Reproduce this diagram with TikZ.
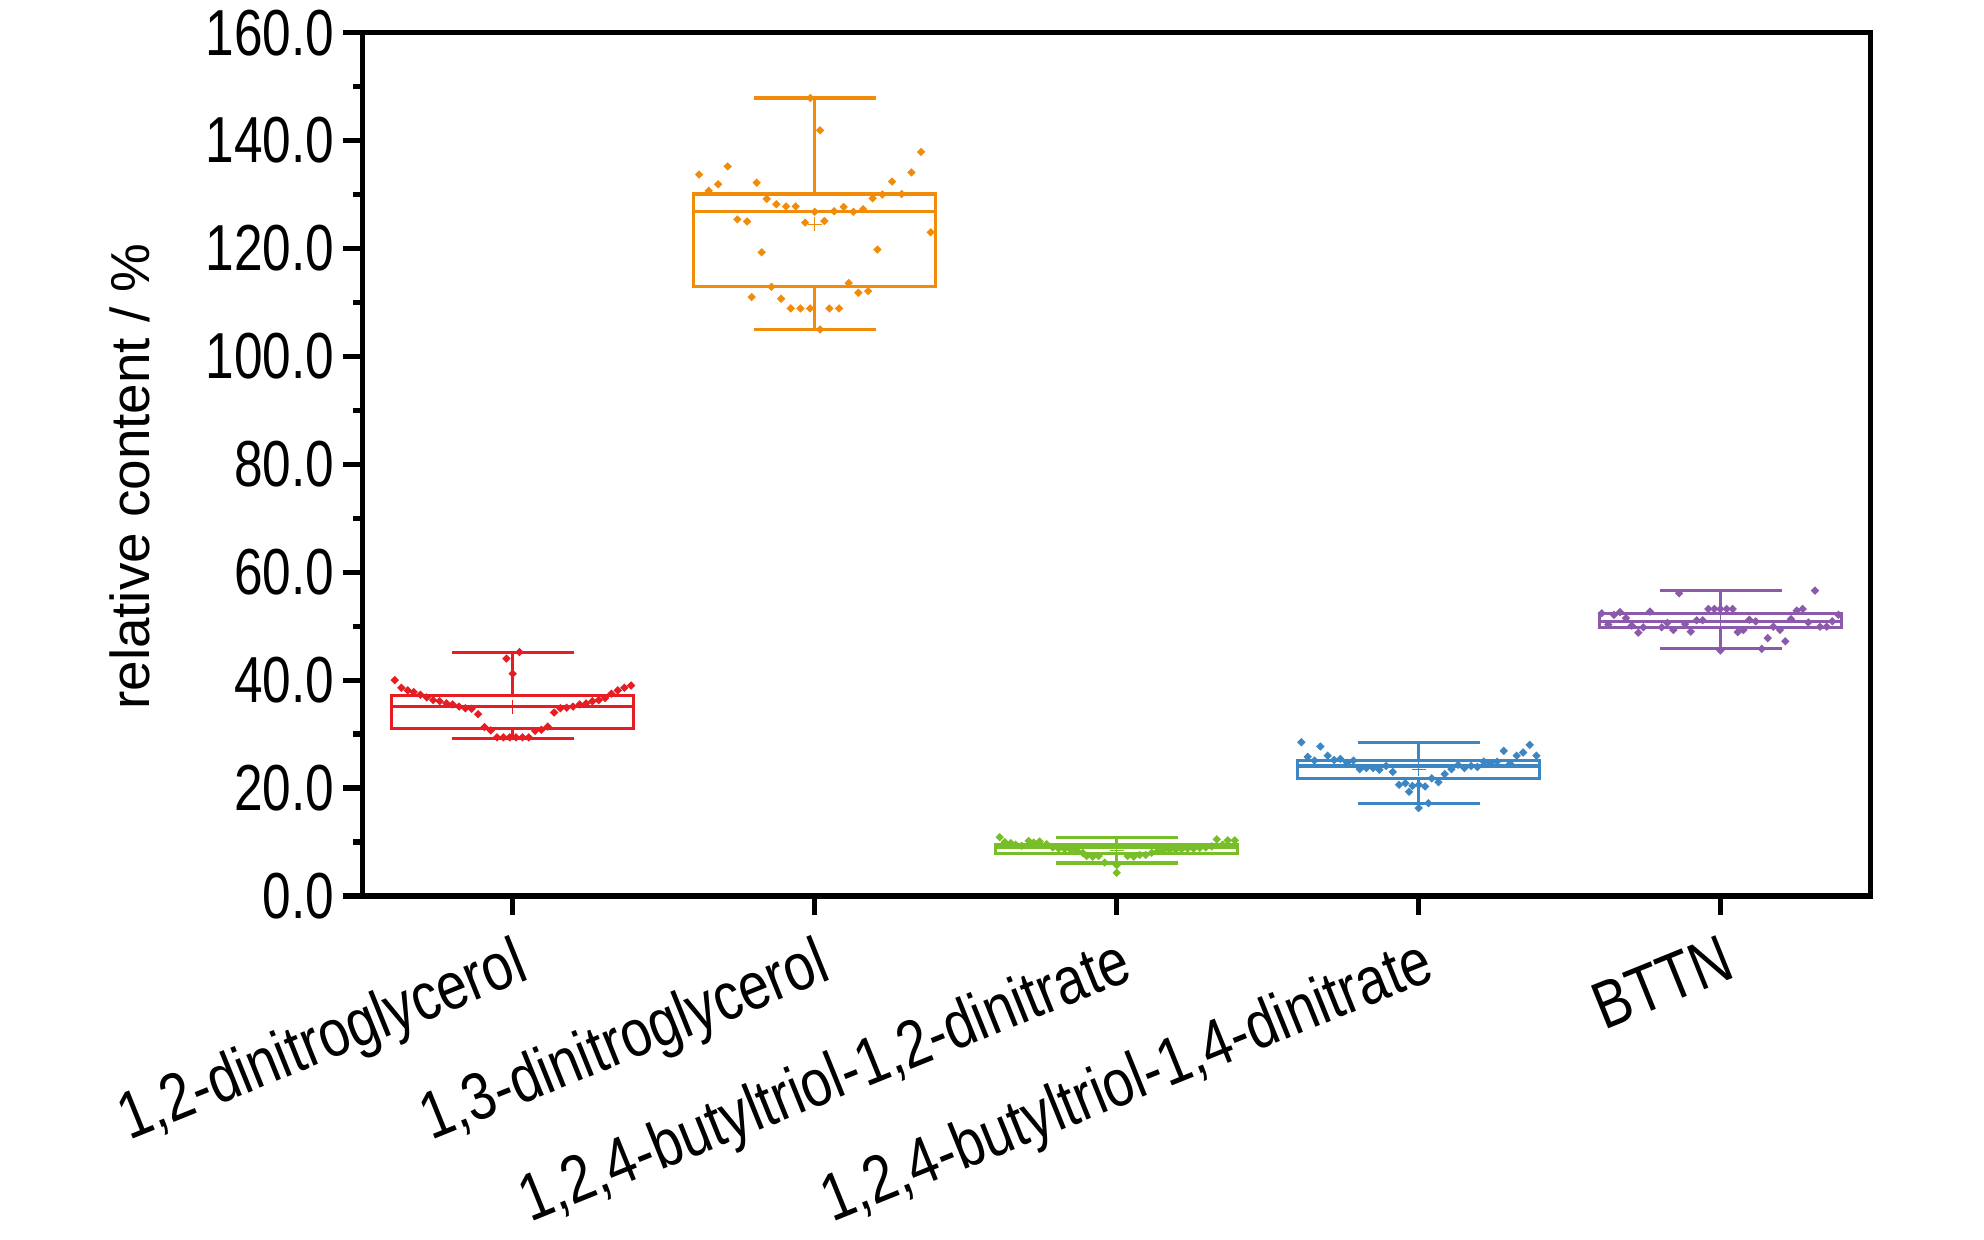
\documentclass[tikz,border=0pt]{standalone}
\usepackage{fontspec}
\setmainfont{Liberation Sans}
\newfontfamily\ticknarrow{Liberation Sans}[FakeStretch=0.79]
\newfontfamily\catnarrow{Liberation Sans}[FakeStretch=0.82]
\usetikzlibrary{shapes.geometric}

\definecolor{cred}{RGB}{230,30,35}
\definecolor{corange}{RGB}{240,140,10}
\definecolor{cgreen}{RGB}{120,190,40}
\definecolor{cblue}{RGB}{60,135,195}
\definecolor{cpurple}{RGB}{140,90,170}

\tikzset{
  frameline/.style={line width=1.5pt},
  boxline/.style={line width=0.9pt},
  datapt/.style={diamond, fill, inner sep=0pt, minimum size=0.09cm},
  ticklabel/.style={font=\ticknarrow\fontsize{18.5}{20}\selectfont, inner sep=0pt, anchor=east},
  catlabel/.style={font=\catnarrow\fontsize{19}{21}\selectfont, inner sep=0pt, anchor=north east, rotate=22},
  axistitle/.style={font=\fontsize{15.6}{17}\selectfont, inner sep=0pt, rotate=90}
}

\begin{document}
\begin{tikzpicture}[x=0.01cm, y=0.01cm]
\useasboundingbox (0,0) rectangle (1984,1240);

\node[axistitle] (ytitle) at (130,763.5) {relative content / \%};

\begin{scope}[shift={(362.7,344)}, y=0.05392cm]
\draw[frameline] (0,0) rectangle (1508,160);
\foreach \v in {0,20,...,160} {
  \draw[frameline] (0,\v) -- (-20,\v);
  \node[ticklabel] (ytick\v) at (-27.7,\v) {\v.0};
}
\foreach \v in {10,30,...,150}
  \draw[frameline] (0,\v) -- (-10,\v);

\foreach \c/\col/\lo/\qa/\md/\qb/\hi/\mn in {150/cred/29.2/31.1/35.1/37.2/45.1/35.0,
    452/corange/105.0/112.9/126.8/130.1/147.9/124.5,
    754/cgreen/6.1/7.9/9.0/9.5/10.9/8.4,
    1056/cblue/17.2/21.8/24.1/25.1/28.5/23.5,
    1358/cpurple/45.8/49.8/50.8/52.4/56.6/51.0} {
  \draw[boxline, color=\col] (\c-121,\qa) rectangle (\c+121,\qb);
  \draw[boxline, color=\col] (\c-121,\md) -- (\c+121,\md);
  \draw[boxline, color=\col] (\c,\qb) -- (\c,\hi) (\c-61,\hi) -- (\c+61,\hi);
  \draw[boxline, color=\col] (\c,\qa) -- (\c,\lo) (\c-61,\lo) -- (\c+61,\lo);
  \draw[color=\col, line width=0.3pt] (\c-7,\mn) -- (\c+7,\mn) (\c,\mn) ++(0,-0.07cm) -- ++(0,0.14cm);
  \draw[frameline] (\c,0) -- ++(0,-0.19cm);
}

\foreach \dx/\v [count=\i] in {-118/40.0, -111.3/38.6, -105/38.1, -99/37.8, -92.3/37.3, -86/36.8,
    -79.6/36.3, -73/36.1, -66.3/35.7, -60/35.5, -53.6/35.1, -47.3/34.8, -41/34.7, -34.6/33.7,
    -28.3/31.3, -22/30.7, -15.6/29.4, -9.3/29.4, -3/29.4, 3.3/29.4, 9.7/29.4, 16/29.4,
    22.4/30.6, 28.7/30.8, 35/31.4, 41.4/34.0, 47.7/34.8, 54/34.9, 60.4/35.1, 67/35.5,
    73.4/35.7, 79.7/36.1, 86/36.3, 92.4/36.7, 98.7/37.5, 105/38.1, 111.7/38.6, 118.4/39.0,
    0/41.2, -6.3/44.0, 6.7/45.2}
  \node[datapt, cred] (red\i) at (\dx+150,\v) {};

\foreach \dx/\v [count=\i] in {-4.3/147.9, 5.4/141.9, -115.6/133.7, -106/130.7, -96.6/131.9,
    -87/135.2, -58/132.2, -48/129.2, -38.3/128.2, -28.6/127.8, -19/127.8, -77.3/125.4,
    -67.6/125.0, -53/119.3, -9.6/124.8, 0/126.8, 9.7/125.1, 19.4/126.9, 29/127.7, 38.7/126.8,
    48.4/127.3, 58/129.3, 67.7/130.0, 77.4/132.4, 87/130.1, 96.7/134.1, 106.4/137.9, 116/123.0,
    62.7/119.8, 34/113.6, 43.7/111.8, 53.4/112.1, -63/111.0, -43.3/112.9, -33.6/110.7,
    -24/108.9, -14.3/108.9, -4.6/108.9, 14.7/108.9, 24.4/108.9, 5.4/105.0}
  \node[datapt, corange] (orange\i) at (\dx+452,\v) {};

\foreach \dx/\v [count=\i] in {-117/10.9, -112/10.0, -106/9.8, -101/9.5, -95/9.3, -88/10.2,
    -83/9.9, -77/10.1, -70/9.6, -64/9.0, -58/8.8, -52/8.7, -46/8.6, -40/8.4, -34/8.0,
    -30/7.4, -24/7.3, -18/7.4, -12/6.2, 0/5.7, 0/4.3, 11/7.4, 17/7.3, 23/7.6, 29/7.6,
    35/8.0, 41/8.3, 47/8.5, 53/8.6, 59/8.6, 65/8.7, 71/8.8, 77/8.8, 83/8.9, 89/9.0,
    95/9.2, 100/10.5, 106/9.5, 111/10.3, 118/10.3}
  \node[datapt, cgreen] (green\i) at (\dx+754,\v) {};

\foreach \dx/\v [count=\i] in {-117.3/28.5, -111/25.8, -104.3/25.1, -98.3/27.7, -91/26.0,
    -84.6/25.2, -78.3/25.4, -71.6/24.7, -65.3/25.1, -59/23.5, -52.3/23.7, -45.6/23.7,
    -39.3/23.4, -32.6/24.1, -26/23.0, -19.6/20.6, -13.3/20.9, -9.6/19.3, -6.3/20.4,
    0/20.6, 0/16.3, 6.4/20.3, 9.7/17.2, 13/21.8, 19.7/21.1, 26/22.6, 32.7/23.5, 39.4/24.3,
    45.7/23.7, 52.4/24.1, 58.7/23.9, 65/24.9, 71.7/24.6, 78.4/24.9, 85/26.9, 91.4/24.5,
    98/26.0, 104.4/26.6, 111/28.0, 117.7/26.0}
  \node[datapt, cblue] (blue\i) at (\dx+1056,\v) {};

\foreach \dx/\v [count=\i] in {-119/52.4, -112.4/50.3, -106.7/52.1, -100.7/52.6, -94.7/51.5,
    -89/50.1, -82.4/48.8, -77.4/49.8, -70.7/52.7, -59/49.8, -53.4/50.6, -47.4/49.3,
    -41.7/56.1, -35.7/50.4, -30/49.0, -24/51.1, -18/51.1, -12.4/53.2, -6.4/53.2, -0.4/53.2,
    -0.4/45.5, 6/53.2, 12/53.2, 17/48.9, 22.6/49.3, 28.6/51.2, 35/50.9, 41/45.8, 47/47.8,
    52.6/49.9, 59.3/49.3, 64.6/47.2, 70.3/51.3, 76/52.9, 82/53.2, 87.6/50.7, 94.3/56.6,
    99.3/49.9, 106/49.9, 111.6/50.9, 117.7/52.1}
  \node[datapt, cpurple] (purple\i) at (\dx+1358,\v) {};

\foreach \c/\txt [count=\i] in {150/{1,2-dinitroglycerol}, 452/{1,3-dinitroglycerol},
    754/{1,2,4-butyltriol-1,2-dinitrate}, 1056/{1,2,4-butyltriol-1,4-dinitrate}, 1358/{BTTN}}
  \node[catlabel] (cat\i) at (\c,-6.86) {\txt};
\end{scope}
\end{tikzpicture}
\end{document}
